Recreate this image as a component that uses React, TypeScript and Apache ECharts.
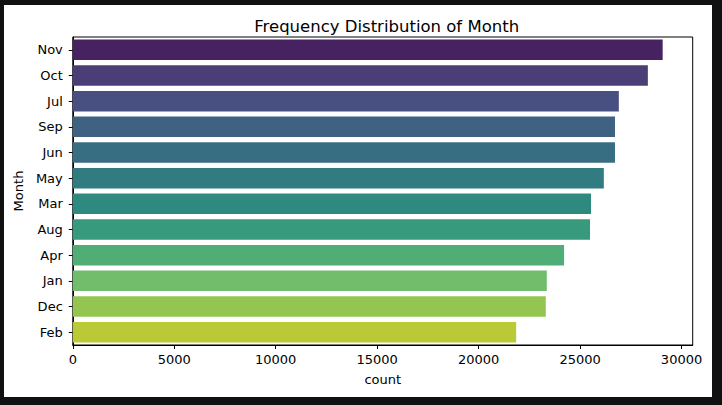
import React, { useEffect, useRef } from 'react';
import * as echarts from 'echarts';

const months = ['Nov', 'Oct', 'Jul', 'Sep', 'Jun', 'May', 'Mar', 'Aug', 'Apr', 'Jan', 'Dec', 'Feb'];
const counts = [29070, 28340, 26910, 26720, 26720, 26170, 25540, 25490, 24210, 23360, 23310, 21850];
const barColors = [
    '#462260', '#4b3e77', '#475080', '#3f6182', '#386e82', '#317c81',
    '#2e8a7f', '#379a7c', '#50ad75', '#71bd6c', '#95c551', '#bac936'
];
const xTicks = [0, 5000, 10000, 15000, 20000, 25000, 30000];

const FONT = 'DejaVu Sans';

const App: React.FC = () => {
    const chartRef = useRef<HTMLDivElement>(null);

    useEffect(() => {
        if (!chartRef.current) return;
        const chart = echarts.init(chartRef.current, undefined, { renderer: 'svg' });

        const option = {
            animation: false,
            backgroundColor: '#ffffff',
            textStyle: { fontFamily: FONT },
            title: {
                text: 'Frequency Distribution of Month',
                left: 377.7,
                top: 8,
                textAlign: 'center',
                textStyle: { fontFamily: FONT, fontSize: 16.5, fontWeight: 'normal', color: '#000' }
            },
            grid: {
                left: 68.5,
                right: 19.3,
                top: 32,
                bottom: 52,
                show: true,
                borderColor: '#000',
                borderWidth: 1,
                backgroundColor: 'transparent'
            },
            xAxis: {
                type: 'value',
                min: 0,
                max: 30550,
                name: 'count',
                nameLocation: 'middle',
                nameGap: 28,
                nameTextStyle: { fontFamily: FONT, fontSize: 13, color: '#000' },
                axisLine: { show: true, lineStyle: { color: '#000', width: 1 } },
                axisTick: { show: true, length: 4, customValues: xTicks, lineStyle: { color: '#000' } },
                axisLabel: {
                    customValues: xTicks,
                    margin: 8,
                    fontFamily: FONT,
                    fontSize: 13,
                    color: '#000',
                    formatter: (v: number) => String(v)
                },
                splitLine: { show: false }
            },
            yAxis: {
                type: 'category',
                inverse: true,
                data: months,
                name: 'Month',
                nameLocation: 'middle',
                nameGap: 46,
                nameTextStyle: { fontFamily: FONT, fontSize: 13, color: '#000' },
                axisLine: { show: true, lineStyle: { color: '#000', width: 1 } },
                axisTick: { show: true, length: 4, alignWithLabel: true, lineStyle: { color: '#000' } },
                axisLabel: { margin: 10, fontFamily: FONT, fontSize: 13, color: '#000' },
                splitLine: { show: false }
            },
            series: [
                {
                    type: 'bar',
                    barCategoryGap: '20%',
                    data: counts.map((v, i) => ({ value: v, itemStyle: { color: barColors[i] } }))
                }
            ]
        };

        chart.setOption(option);
        return () => chart.dispose();
    }, []);

    return (
        <div style={{ position: 'fixed', left: 0, top: 0, width: 722, height: 405, background: '#111111' }}>
            <div
                ref={chartRef}
                style={{ position: 'absolute', left: 4, top: 5, width: 708, height: 392, background: '#fff' }}
            />
        </div>
    );
};

export default App;
